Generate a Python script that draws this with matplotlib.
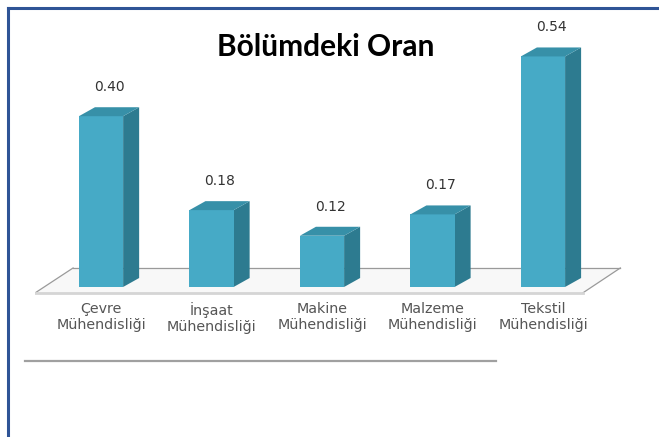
import matplotlib
matplotlib.use("Agg")
import matplotlib.pyplot as plt
from matplotlib.patches import Polygon
from matplotlib.lines import Line2D
import numpy as np

categories = ["Çevre\nMühendisliği", "İnşaat\nMühendisliği", "Makine\nMühendisliği",
              "Malzeme\nMühendisliği", "Tekstil\nMühendisliği"]
values = [0.40, 0.18, 0.12, 0.17, 0.54]
value_labels = ["0.40", "0.18", "0.12", "0.17", "0.54"]
title = "Bölümdeki Oran"

front_c = "#46aac6"
side_c = "#2d7b90"
top_c = "#3790a8"

fig = plt.figure(figsize=(6.59, 4.37), dpi=100)
ax = fig.add_axes([0.0527, 0.314, 0.897, 0.6155])
ax.set_xlim(-0.6, 4.75)
ax.set_ylim(-0.03, 0.6)
ax.axis("off")

x = np.arange(len(values))
w = 0.40
ddx, ddy = 0.145, 0.021

# floor
fb, ff = 0.0445, -0.014
floor = Polygon([(-0.597, ff), (4.36, ff), (4.70, fb), (-0.253, fb)], closed=True,
                facecolor="#f8f8f8", edgecolor="none", zorder=1)
ax.add_patch(floor)
ax.plot([-0.253, 4.70], [fb, fb], color="#9a9a9a", lw=0.9, zorder=1.5)
ax.plot([-0.597, -0.253], [ff, fb], color="#9a9a9a", lw=0.9, zorder=1.5)
ax.plot([4.36, 4.70], [ff, fb], color="#9a9a9a", lw=0.9, zorder=1.5)
ax.plot([-0.597, 4.36], [ff, ff], color="#d5d5d5", lw=2.0, zorder=1.5)

bars = ax.bar(x, values, width=w, color=front_c, edgecolor="none", zorder=3)
for xi, v in zip(x, values):
    r = xi + w / 2
    l = xi - w / 2
    side = Polygon([(r, 0), (r + ddx, ddy), (r + ddx, v + ddy), (r, v)], closed=True,
                   facecolor=side_c, edgecolor="none", zorder=2.9)
    top = Polygon([(l, v), (r, v), (r + ddx, v + ddy), (l + ddx, v + ddy)], closed=True,
                  facecolor=top_c, edgecolor="none", zorder=3.1)
    ax.add_patch(side)
    ax.add_patch(top)

for xi, v, lab in zip(x, values, value_labels):
    ax.annotate(lab, (xi + ddx / 2, v), xytext=(0, 21), textcoords="offset points",
                ha="center", va="center", fontsize=10, color="#333333",
                family="DejaVu Sans")

for xi, c in zip(x, categories):
    ax.text(xi, -0.035, c, ha="center", va="top", fontsize=10.3, color="#555555",
            linespacing=1.2, family="DejaVu Sans")

fig.text(326 / 659, 1 - 47 / 437, title, ha="center", va="center", fontsize=21.5,
         fontweight="bold", family="Lato", color="black")

# separator line
fig.add_artist(Line2D([25 / 659, 496 / 659], [1 - 361 / 437] * 2, color="#a0a0a0", lw=1.6))

# blue frame (left and top)
fc = "#2f5496"
fig.add_artist(Line2D([7.5 / 659, 7.5 / 659], [0, 1 - 7.5 / 437], color=fc, lw=2.2))
fig.add_artist(Line2D([7.5 / 659, 1], [1 - 7.5 / 437] * 2, color=fc, lw=2.2))

fig.savefig("out.png", dpi=100)
